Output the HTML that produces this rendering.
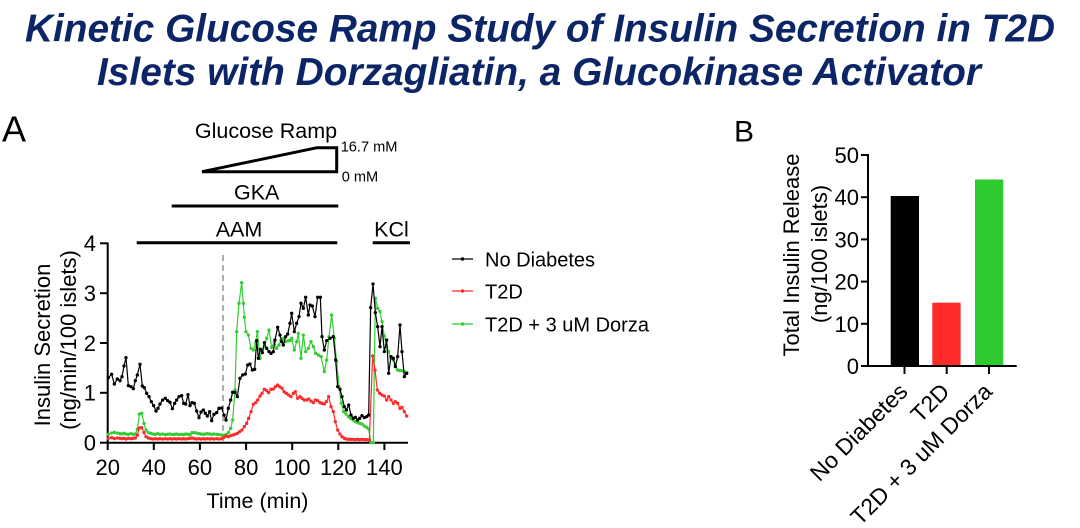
<!DOCTYPE html>
<html><head><meta charset="utf-8"><style>
html,body{margin:0;padding:0;background:#fff;}
svg{display:block;}
text{font-family:"Liberation Sans",Arial,sans-serif;}
</style></head><body>
<svg width="1080" height="528" viewBox="0 0 1080 528" xmlns="http://www.w3.org/2000/svg">
<defs>
<marker id="mk" markerUnits="userSpaceOnUse" markerWidth="12" markerHeight="12" refX="6" refY="6"><circle cx="6" cy="6" r="5" fill="#000"/></marker>
<marker id="mr" markerUnits="userSpaceOnUse" markerWidth="12" markerHeight="12" refX="6" refY="6"><circle cx="6" cy="6" r="5" fill="#ff2a2a"/></marker>
<marker id="mg" markerUnits="userSpaceOnUse" markerWidth="12" markerHeight="12" refX="6" refY="6"><circle cx="6" cy="6" r="5" fill="#33cc33"/></marker>
</defs>
<rect width="1080" height="528" fill="#fff"/>

<!-- Title -->
<text x="540" y="41.7" text-anchor="middle" font-size="39" font-weight="bold" font-style="italic" fill="#0c2566" textLength="1030" lengthAdjust="spacingAndGlyphs">Kinetic Glucose Ramp Study of Insulin Secretion in T2D</text>
<text x="539" y="85" text-anchor="middle" font-size="39" font-weight="bold" font-style="italic" fill="#0c2566" textLength="884" lengthAdjust="spacingAndGlyphs">Islets with Dorzagliatin, a Glucokinase Activator</text>

<!-- Panel A labels -->
<text x="2" y="141.7" font-size="36">A</text>
<text x="266" y="138" text-anchor="middle" font-size="21.5">Glucose Ramp</text>
<path d="M202,171.7 L317,147.7 L336.7,147.7 L336.7,171.7 Z" fill="none" stroke="#000" stroke-width="3"/>
<text x="340.7" y="151.7" font-size="14.6">16.7 mM</text>
<text x="341.7" y="181.7" font-size="14.6">0 mM</text>
<text x="256.7" y="199.3" text-anchor="middle" font-size="21.5">GKA</text>
<line x1="171.7" y1="206" x2="338.3" y2="206" stroke="#000" stroke-width="3"/>
<text x="239" y="236.7" text-anchor="middle" font-size="21.5">AAM</text>
<line x1="136.7" y1="242.7" x2="337.3" y2="242.7" stroke="#000" stroke-width="3"/>
<text x="391.5" y="236.7" text-anchor="middle" font-size="21.5">KCl</text>
<line x1="372.7" y1="242.7" x2="410" y2="242.7" stroke="#000" stroke-width="3"/>

<!-- Panel A axes -->
<g stroke="#000" stroke-width="2" fill="none">
<line x1="107.7" y1="242.5" x2="107.7" y2="443.5"/>
<line x1="106.7" y1="442.7" x2="408" y2="442.7"/>
<line x1="100" y1="243.3" x2="107.7" y2="243.3"/>
<line x1="100" y1="293.2" x2="107.7" y2="293.2"/>
<line x1="100" y1="343" x2="107.7" y2="343"/>
<line x1="100" y1="392.8" x2="107.7" y2="392.8"/>
<line x1="100" y1="442.7" x2="107.7" y2="442.7"/>
<line x1="107.7" y1="442.7" x2="107.7" y2="450"/>
<line x1="153.8" y1="442.7" x2="153.8" y2="450"/>
<line x1="199.9" y1="442.7" x2="199.9" y2="450"/>
<line x1="246.1" y1="442.7" x2="246.1" y2="450"/>
<line x1="292.2" y1="442.7" x2="292.2" y2="450"/>
<line x1="338.3" y1="442.7" x2="338.3" y2="450"/>
<line x1="384.4" y1="442.7" x2="384.4" y2="450"/>
</g>
<g font-size="22" text-anchor="end">
<text x="96" y="251">4</text>
<text x="96" y="301">3</text>
<text x="96" y="350.8">2</text>
<text x="96" y="400.6">1</text>
<text x="96" y="450.5">0</text>
</g>
<g font-size="22" text-anchor="middle">
<text x="107.7" y="475">20</text>
<text x="153.8" y="475">40</text>
<text x="199.9" y="475">60</text>
<text x="246.1" y="475">80</text>
<text x="292.2" y="475">100</text>
<text x="338.3" y="475">120</text>
<text x="384.4" y="475">140</text>
</g>
<text x="257.5" y="508" text-anchor="middle" font-size="21.5">Time (min)</text>
<text transform="translate(50,345) rotate(-90)" text-anchor="middle" font-size="22">Insulin Secretion</text>
<text transform="translate(76,340) rotate(-90)" text-anchor="middle" font-size="22">(ng/min/100 islets)</text>

<!-- dashed line -->
<line x1="223" y1="255" x2="223" y2="442" stroke="#9a9a9a" stroke-width="1.6" stroke-dasharray="6,4"/>

<!-- Series -->
<g transform="translate(20,230) scale(0.333333)" fill="none">
<polyline stroke="#33cc33" stroke-width="1.2" vector-effect="non-scaling-stroke" marker-start="url(#mg)" marker-mid="url(#mg)" marker-end="url(#mg)" points="265,613 275,609 283,607 292,609 300,611 306,612 312,610 318,612 325,613 333,611 340,613 346,612 352,598 358,552 365,550 372,580 378,600 385,608 392,610 399,612 406,613 413,611 420,613 428,612 436,614 443,613 450,612 457,614 464,613 470,612 477,614 485,613 491,614 497,612 504,613 510,614 516,608 523,608 530,609 537,611 543,612 550,613 556,612 562,611 569,612 575,613 582,612 590,613 597,614 605,615 612,616 618,614 625,608 632,595 638,570 645,480 650,305 657,220 665,158 670,220 673,262 678,305 685,315 693,355 700,360 707,338 712,305 720,385 727,360 733,350 740,325 747,300 755,352 763,335 770,355 777,345 783,330 790,325 797,335 805,332 810,332 815,325 823,360 830,335 835,310 843,385 850,315 857,365 865,355 873,335 880,350 887,370 895,375 903,380 913,425 920,390 927,320 935,255 943,325 950,395 957,470 964,520 971,545 978,552 985,560 992,565 999,570 1006,575 1013,578 1019,580 1026,582 1033,588 1040,592 1046,597 1053,638 1060,638 1066,205 1073,235 1080,245 1086,275 1093,318 1100,350 1106,365 1113,385 1120,390 1126,405 1133,420 1140,422 1146,422 1153,425 1160,428"/>
<polyline stroke="#ff2a2a" stroke-width="1.2" vector-effect="non-scaling-stroke" marker-start="url(#mr)" marker-mid="url(#mr)" marker-end="url(#mr)" points="265,625 275,623 283,626 292,624 300,625 306,626 312,625 318,627 325,625 333,626 340,625 346,624 352,615 358,594 365,593 372,608 378,620 385,624 392,626 399,627 406,626 413,627 420,626 428,627 436,626 443,627 450,626 457,627 464,626 470,627 477,626 485,627 491,626 497,627 504,626 510,625 516,624 523,626 530,627 537,626 543,627 550,626 556,627 562,626 569,627 575,626 582,627 590,626 597,627 605,626 612,622 618,618 625,620 632,617 638,615 645,613 652,610 659,605 666,600 673,590 680,580 686,565 693,545 700,523 707,518 713,510 720,498 726,490 733,478 740,482 746,488 753,478 760,477 766,470 773,465 779,470 786,475 792,485 799,490 806,495 813,500 820,490 826,485 833,505 840,500 846,505 853,510 860,510 866,507 873,513 880,518 886,510 893,512 900,518 906,520 913,522 919,515 926,500 933,530 940,545 946,575 953,600 960,612 966,620 973,625 979,627 986,628 993,628 1000,628 1006,629 1013,628 1019,629 1026,628 1033,629 1040,629 1048,630 1058,378 1065,420 1072,480 1079,490 1086,495 1093,498 1100,510 1106,500 1113,510 1120,520 1126,515 1133,520 1140,535 1146,532 1153,545 1160,558"/>
<polyline stroke="#000" stroke-width="1.2" vector-effect="non-scaling-stroke" marker-start="url(#mk)" marker-mid="url(#mk)" marker-end="url(#mk)" points="265,443 275,433 283,462 292,447 300,452 306,440 312,408 318,383 325,467 333,470 340,476 346,452 352,435 360,403 367,468 373,473 380,490 387,500 394,515 401,527 408,543 414,535 420,522 428,510 436,505 443,512 450,517 457,536 464,520 470,510 477,500 485,497 491,520 497,522 504,494 510,527 516,518 523,520 530,543 537,563 543,546 550,540 556,550 562,558 569,545 575,572 582,553 590,548 597,535 605,534 612,555 618,570 625,535 632,510 638,487 645,487 652,500 660,445 668,435 676,432 683,405 690,402 697,420 704,418 710,332 715,385 721,358 727,368 733,338 740,355 747,365 753,370 760,365 765,330 773,292 780,315 785,335 790,345 797,320 803,312 810,280 815,250 823,305 830,280 837,260 843,220 850,235 857,202 865,255 870,225 877,228 885,260 893,202 901,202 906,320 913,360 920,332 930,325 940,320 947,390 953,470 960,478 966,500 973,530 979,540 986,525 993,555 1000,565 1006,562 1013,570 1019,565 1026,557 1033,563 1040,560 1046,555 1052,233 1059,162 1066,248 1073,290 1080,350 1086,290 1093,365 1100,330 1106,430 1113,380 1120,385 1126,410 1133,380 1140,285 1146,365 1153,440 1160,430"/>
</g>

<!-- Legend -->
<line x1="452" y1="259" x2="473" y2="259" stroke="#000" stroke-width="1.2"/>
<circle cx="462.5" cy="259" r="1.7" fill="#000"/>
<text x="485" y="266.7" font-size="20">No Diabetes</text>
<line x1="452" y1="291" x2="473" y2="291" stroke="#ff2a2a" stroke-width="1.2"/>
<circle cx="462.5" cy="291" r="1.7" fill="#ff2a2a"/>
<text x="485" y="298.3" font-size="20">T2D</text>
<line x1="452" y1="324" x2="473" y2="324" stroke="#33cc33" stroke-width="1.2"/>
<circle cx="462.5" cy="324" r="1.7" fill="#33cc33"/>
<text x="485" y="331.5" font-size="20">T2D + 3 uM Dorza</text>

<!-- Panel B -->
<text x="734" y="141.7" font-size="30">B</text>
<rect x="890.7" y="196" width="28.3" height="170" fill="#000"/>
<rect x="932.3" y="302.7" width="28.3" height="63.3" fill="#ff2a2a"/>
<rect x="975" y="179.5" width="28.3" height="186.5" fill="#2ecb2e"/>
<g stroke="#000" stroke-width="2" fill="none">
<line x1="868" y1="154" x2="868" y2="367"/>
<line x1="867" y1="366" x2="1016.7" y2="366"/>
<line x1="861" y1="155" x2="868" y2="155"/>
<line x1="861" y1="197.2" x2="868" y2="197.2"/>
<line x1="861" y1="239.4" x2="868" y2="239.4"/>
<line x1="861" y1="281.6" x2="868" y2="281.6"/>
<line x1="861" y1="323.8" x2="868" y2="323.8"/>
<line x1="861" y1="366" x2="868" y2="366"/>
<line x1="904.5" y1="366" x2="904.5" y2="374"/>
<line x1="946.7" y1="366" x2="946.7" y2="374"/>
<line x1="989" y1="366" x2="989" y2="374"/>
</g>
<g font-size="22" text-anchor="end">
<text x="859" y="163">50</text>
<text x="859" y="205.2">40</text>
<text x="859" y="247.4">30</text>
<text x="859" y="289.6">20</text>
<text x="859" y="331.8">10</text>
<text x="859" y="374">0</text>
</g>
<text transform="translate(799,255) rotate(-90)" text-anchor="middle" font-size="22">Total Insulin Release</text>
<text transform="translate(827,254) rotate(-90)" text-anchor="middle" font-size="22">(ng/100 islets)</text>
<g font-size="23" text-anchor="end">
<text transform="translate(909,393) rotate(-45)">No Diabetes</text>
<text transform="translate(951,393) rotate(-45)">T2D</text>
<text transform="translate(993.5,393) rotate(-45)">T2D + 3 uM Dorza</text>
</g>
</svg>
</body></html>
